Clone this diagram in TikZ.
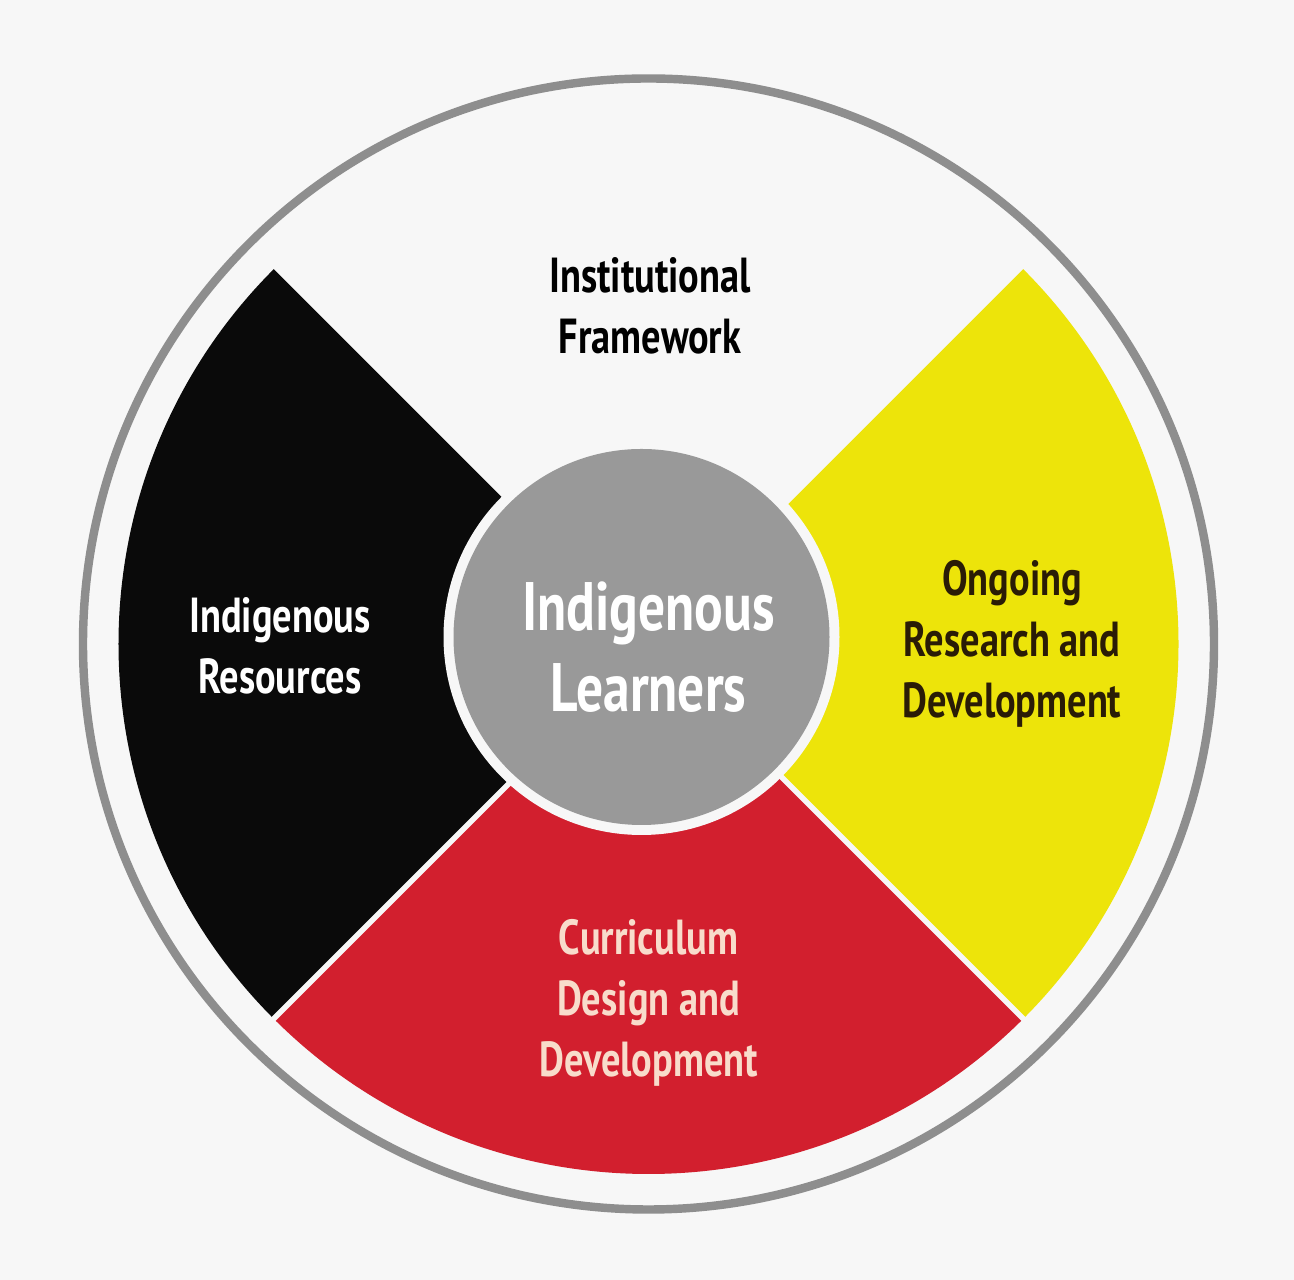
\documentclass[tikz,border=0pt]{standalone}
\usepackage{fontspec}
\newfontfamily\wheelfont[FakeStretch=0.78]{PT Sans}
\definecolor{bg}{HTML}{F7F7F7}
\definecolor{ringgray}{HTML}{8E8E8E}
\definecolor{hubgray}{HTML}{999999}
\definecolor{wheelblack}{HTML}{0A0A0A}
\definecolor{wheelred}{HTML}{D21F2E}
\definecolor{wheelyellow}{HTML}{EDE40A}
\definecolor{darktext}{HTML}{2A1C06}
\definecolor{peachtext}{HTML}{F8DCCB}
\tikzset{
  sectortext/.style = {align=center, font=\wheelfont\bfseries\fontsize{14}{17.4}\selectfont},
  hubtext/.style = {align=center, text=white, font=\wheelfont\bfseries\fontsize{19.5}{23}\selectfont},
  gap/.style = {bg, line width=1.6pt}
}

\begin{document}
\begin{tikzpicture}[x=1cm,y=1cm]
    \useasboundingbox[fill=bg] (-6.485,-6.36) rectangle (6.455,6.44);
    \draw[ringgray, line width=2.4pt] (0,0) circle[radius=5.655];
    % the three coloured quarters, the top one stays white
    \fill[wheelblack] (0,0) -- (135:5.3) arc[start angle=135, end angle=225, radius=5.3] -- cycle;
    \fill[wheelred] (0,0) -- (225:5.3) arc[start angle=225, end angle=315, radius=5.3] -- cycle;
    \fill[wheelyellow] (0,0) -- (-45:5.3) arc[start angle=-45, end angle=45, radius=5.3] -- cycle;
    \draw[gap] (0,0) -- (225:5.35);
    \draw[gap] (0,0) -- (315:5.35);
    \fill[bg] (-0.07,0.07) circle[radius=1.98];
    \node[circle, fill=hubgray, minimum size=3.76cm, inner sep=0pt] (hub) at (-0.07,0.07) {};
    \node[hubtext] (learners) at (0.0,-0.03) {Indigenous\\Learners};
    \node[sectortext, text=black] (framework) at (0.015,3.38) {Institutional\\Framework};
    \node[sectortext, text=white] (resources) at (-3.685,-0.02) {Indigenous\\Resources};
    \node[sectortext, text=darktext] (research) at (3.635,0.0) {Ongoing\\Research and\\Development};
    \node[sectortext, text=peachtext] (curriculum) at (0.0,-3.59) {Curriculum\\Design and\\Development};
\end{tikzpicture}
\end{document}
